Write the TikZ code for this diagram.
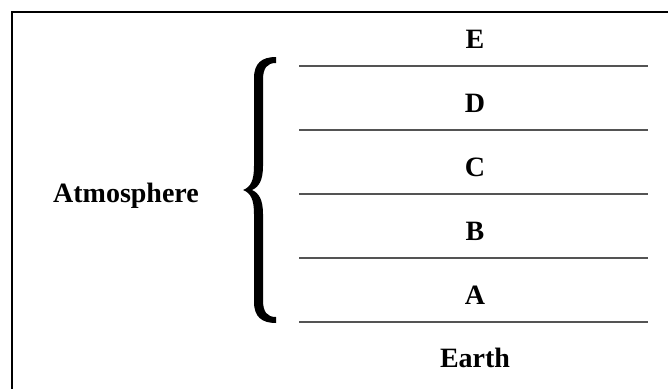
\documentclass[tikz,border=0pt]{standalone}
\usepackage{fontspec}
\setmainfont{Liberation Serif}
\begin{document}
\begin{tikzpicture}[x=1pt,y=-1pt,
  lbl/.style={font=\fontsize{28}{31}\selectfont\bfseries, anchor=base, inner sep=0pt},
  layer/.style={draw=black!67, line width=1.8pt},
  frame/.style={draw=black, line width=2pt}]
\useasboundingbox (0,0) rectangle (668,388);
\draw[frame] (12,400) -- (12,12) -- (680,12);
\foreach \y [count=\i] in {66,130,194,258,322} {
  \coordinate (l\i) at (299,\y);
  \coordinate (r\i) at (648,\y);
  \draw[layer] (l\i) -- (r\i);
}
\node[lbl] (E) at (475,48) {E};
\node[lbl] (D) at (475,112) {D};
\node[lbl] (C) at (475,176) {C};
\node[lbl] (B) at (475,240) {B};
\node[lbl] (A) at (475,304) {A};
\node[lbl] (earth) at (475,367) {Earth};
\node[lbl] (atm) at (126,202) {Atmosphere};
\fill (276,57) .. controls (262,57) and (254,63) .. (254,78) -- (254,166)
  .. controls (254,180) and (251,187) .. (243,190)
  .. controls (251,193) and (254,200) .. (254,214) -- (254,302)
  .. controls (254,317) and (262,323) .. (276,323) -- (276,317)
  .. controls (267,317) and (263,312) .. (263,300) -- (263,214)
  .. controls (263,200) and (259,193) .. (252,190)
  .. controls (259,187) and (263,180) .. (263,166) -- (263,80)
  .. controls (263,68) and (267,63) .. (276,63) -- cycle;
\end{tikzpicture}
\end{document}
